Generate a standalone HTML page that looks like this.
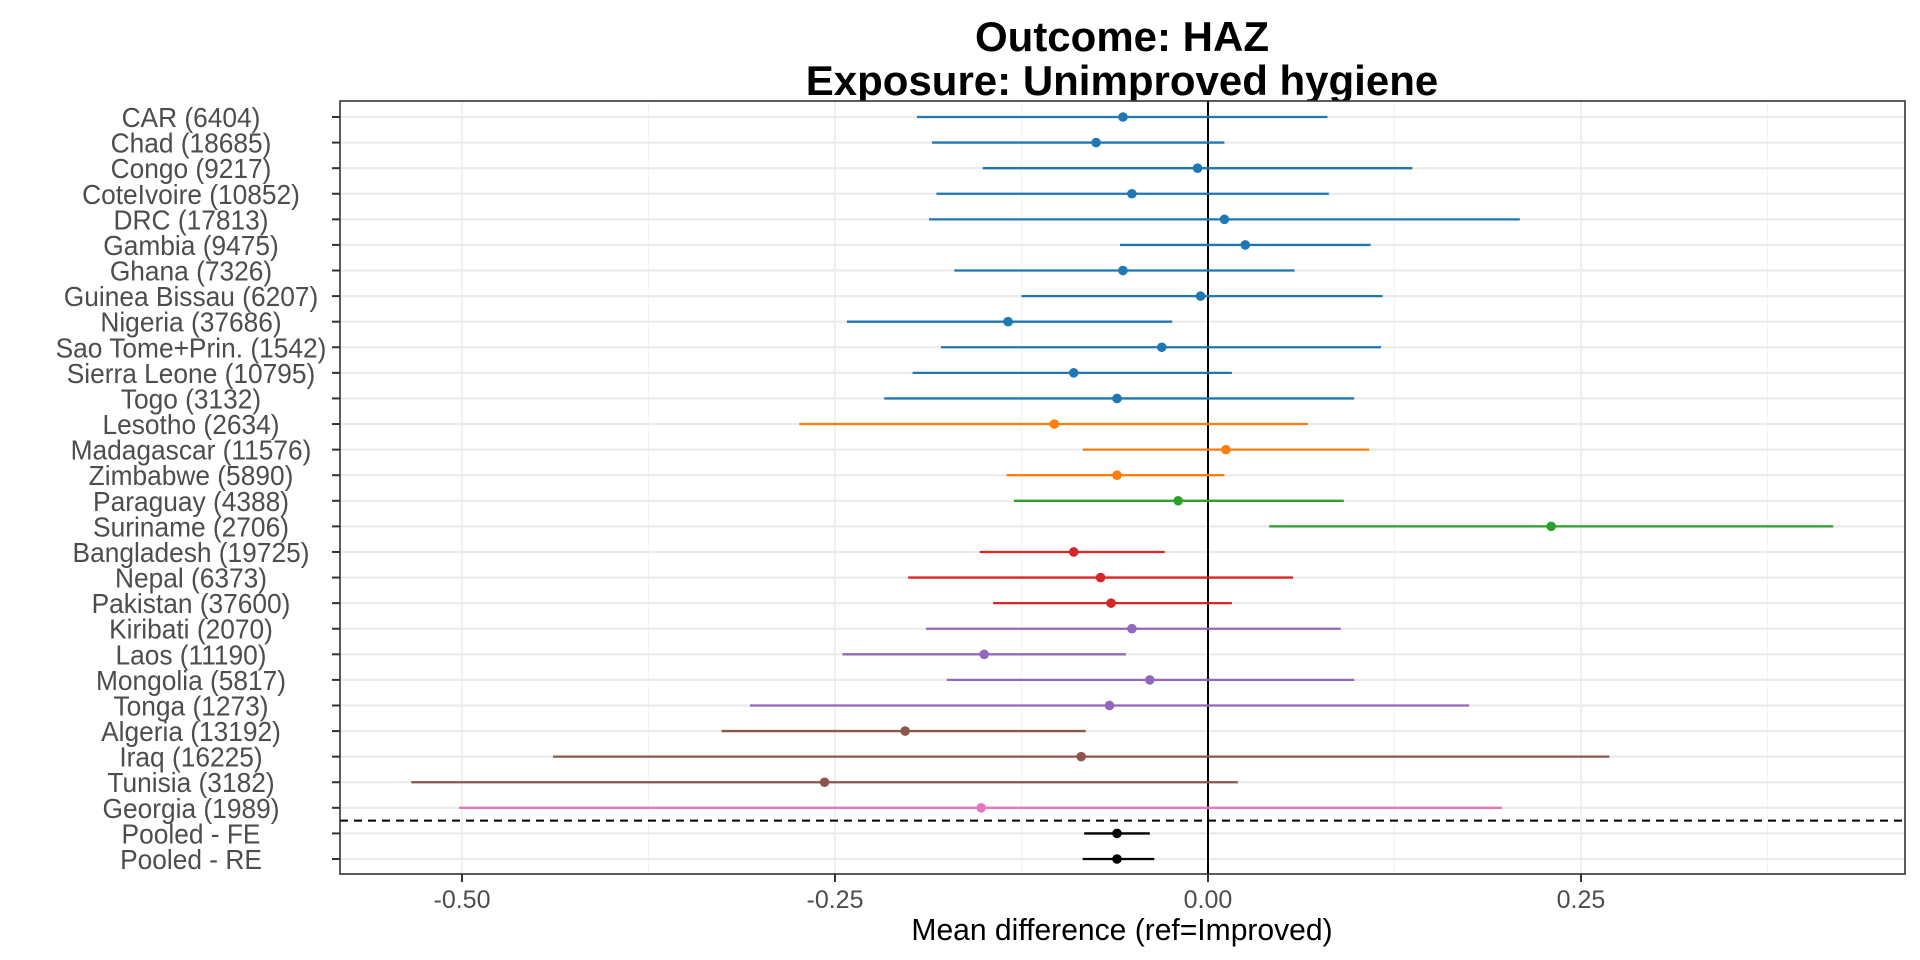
<!DOCTYPE html>
<html><head><meta charset="utf-8"><style>
html,body{margin:0;padding:0;background:#fff;}
svg{display:block;font-family:"Liberation Sans",Arial,sans-serif;}
</style></head><body>
<svg id="chart" width="1920" height="960" viewBox="0 0 1920 960" xmlns="http://www.w3.org/2000/svg">
<rect x="0" y="0" width="1920" height="960" fill="#fff"/>
<text x="1122" y="51" text-anchor="middle" font-size="42" font-weight="bold" fill="#000">Outcome: HAZ</text>
<text x="1122" y="95" text-anchor="middle" font-size="42" font-weight="bold" fill="#000">Exposure: Unimproved hygiene</text>
<g id="grid"></g>
<g id="marks"></g>
<g id="axes"></g>
<g id="ylabels" transform="translate(191,0) scale(0.94,1)"></g>
<text x="1122" y="940" text-anchor="middle" font-size="31" fill="#000" transform="translate(1122,0) scale(0.97,1) translate(-1122,0)">Mean difference (ref=Improved)</text>
</svg>
<script>
const labels = ["CAR (6404)","Chad (18685)","Congo (9217)","CoteIvoire (10852)","DRC (17813)","Gambia (9475)","Ghana (7326)","Guinea Bissau (6207)","Nigeria (37686)","Sao Tome+Prin. (1542)","Sierra Leone (10795)","Togo (3132)","Lesotho (2634)","Madagascar (11576)","Zimbabwe (5890)","Paraguay (4388)","Suriname (2706)","Bangladesh (19725)","Nepal (6373)","Pakistan (37600)","Kiribati (2070)","Laos (11190)","Mongolia (5817)","Tonga (1273)","Algeria (13192)","Iraq (16225)","Tunisia (3182)","Georgia (1989)","Pooled - FE","Pooled - RE"];
const estimates = [-0.057,-0.075,-0.007,-0.051,0.011,0.025,-0.057,-0.005,-0.134,-0.031,-0.090,-0.061,-0.103,0.012,-0.061,-0.020,0.230,-0.090,-0.072,-0.065,-0.051,-0.150,-0.039,-0.066,-0.203,-0.085,-0.257,-0.152,-0.061,-0.061];
const lower = [-0.195,-0.185,-0.151,-0.182,-0.187,-0.059,-0.170,-0.125,-0.242,-0.179,-0.198,-0.217,-0.274,-0.084,-0.135,-0.130,0.041,-0.153,-0.201,-0.144,-0.189,-0.245,-0.175,-0.307,-0.326,-0.439,-0.534,-0.502,-0.083,-0.084];
const upper = [0.080,0.011,0.137,0.081,0.209,0.109,0.058,0.117,-0.024,0.116,0.016,0.098,0.067,0.108,0.011,0.091,0.419,-0.029,0.057,0.016,0.089,-0.055,0.098,0.175,-0.082,0.269,0.020,0.197,-0.039,-0.036];
const regions = ["wa","wa","wa","wa","wa","wa","wa","wa","wa","wa","wa","wa","sa","sa","sa","lac","lac","as","as","as","eap","eap","eap","eap","mena","mena","mena","eu","pool","pool"];
const xTicks = [-0.5,-0.25,0,0.25];
const xTickLabels = ["-0.50","-0.25","0.00","0.25"];
const xMinor = [-0.375,-0.125,0.125,0.375];

const colors = {wa:"#1f77b4",sa:"#ff7f0e",lac:"#2ca02c",as:"#d62728",eap:"#9467bd",mena:"#8c564b",eu:"#e377c2",pool:"#000000"};
const L=340,R=1905,T=101,B=874;
const x0=1208, pxPer=1492;
function xs(v){return x0+v*pxPer;}
function ys(i){return 117+i*(859-117)/(labels.length-1);}
const NS="http://www.w3.org/2000/svg";
function mk(tag,attrs,parent){const e=document.createElementNS(NS,tag);for(const k in attrs)e.setAttribute(k,attrs[k]);parent.appendChild(e);return e;}
const grid=document.getElementById('grid'),marks=document.getElementById('marks'),axes=document.getElementById('axes'),ylab=document.getElementById('ylabels');
let e;
e=mk('rect',{x:L,y:T,width:R-L,height:B-T,fill:'#fff'},grid);


xMinor.forEach(v=>{e=mk('line',{x1:xs(v),x2:xs(v),y1:T,y2:B,stroke:'#f3f3f3','stroke-width':1},grid);

});
xTicks.forEach(v=>{e=mk('line',{x1:xs(v),x2:xs(v),y1:T,y2:B,stroke:'#ebebeb','stroke-width':1.5},grid);

});
labels.forEach((l,i)=>{e=mk('line',{x1:L,x2:R,y1:ys(i),y2:ys(i),stroke:'#ebebeb','stroke-width':2.2},grid);

});
e=mk('line',{x1:xs(0),x2:xs(0),y1:T,y2:B,stroke:'#000','stroke-width':2},grid);


const dashY=(ys(27)+ys(28))/2;
e=mk('line',{x1:L,x2:R,y1:dashY,y2:dashY,stroke:'#000','stroke-width':2,'stroke-dasharray':'8,6'},grid);


labels.forEach((l,i)=>{
  const c=colors[regions[i]];
  e=mk('line',{x1:xs(lower[i]),x2:xs(upper[i]),y1:ys(i),y2:ys(i),stroke:c,'stroke-width':2.3},marks);
  
  
  e=mk('circle',{cx:xs(estimates[i]),cy:ys(i),r:4.8,fill:c},marks);
  
  
  e=mk('line',{x1:332,x2:L,y1:ys(i),y2:ys(i),stroke:'#333','stroke-width':2},axes);
  
  
  e=mk('text',{x:0,y:ys(i)+10,'text-anchor':'middle','font-size':28,fill:'#4d4d4d'},ylab);
  e.textContent=l;
  
  
});
xTicks.forEach((v,i)=>{
  e=mk('line',{x1:xs(v),x2:xs(v),y1:B,y2:B+8,stroke:'#333','stroke-width':2},axes);
  
  
  e=mk('text',{x:xs(v),y:908,'text-anchor':'middle','font-size':25,fill:'#4d4d4d'},axes);
  e.textContent=xTickLabels[i];
  
  
});
e=mk('rect',{x:L,y:T,width:R-L,height:B-T,fill:'none',stroke:'#333','stroke-width':1.6},axes);


</script>
</body></html>
